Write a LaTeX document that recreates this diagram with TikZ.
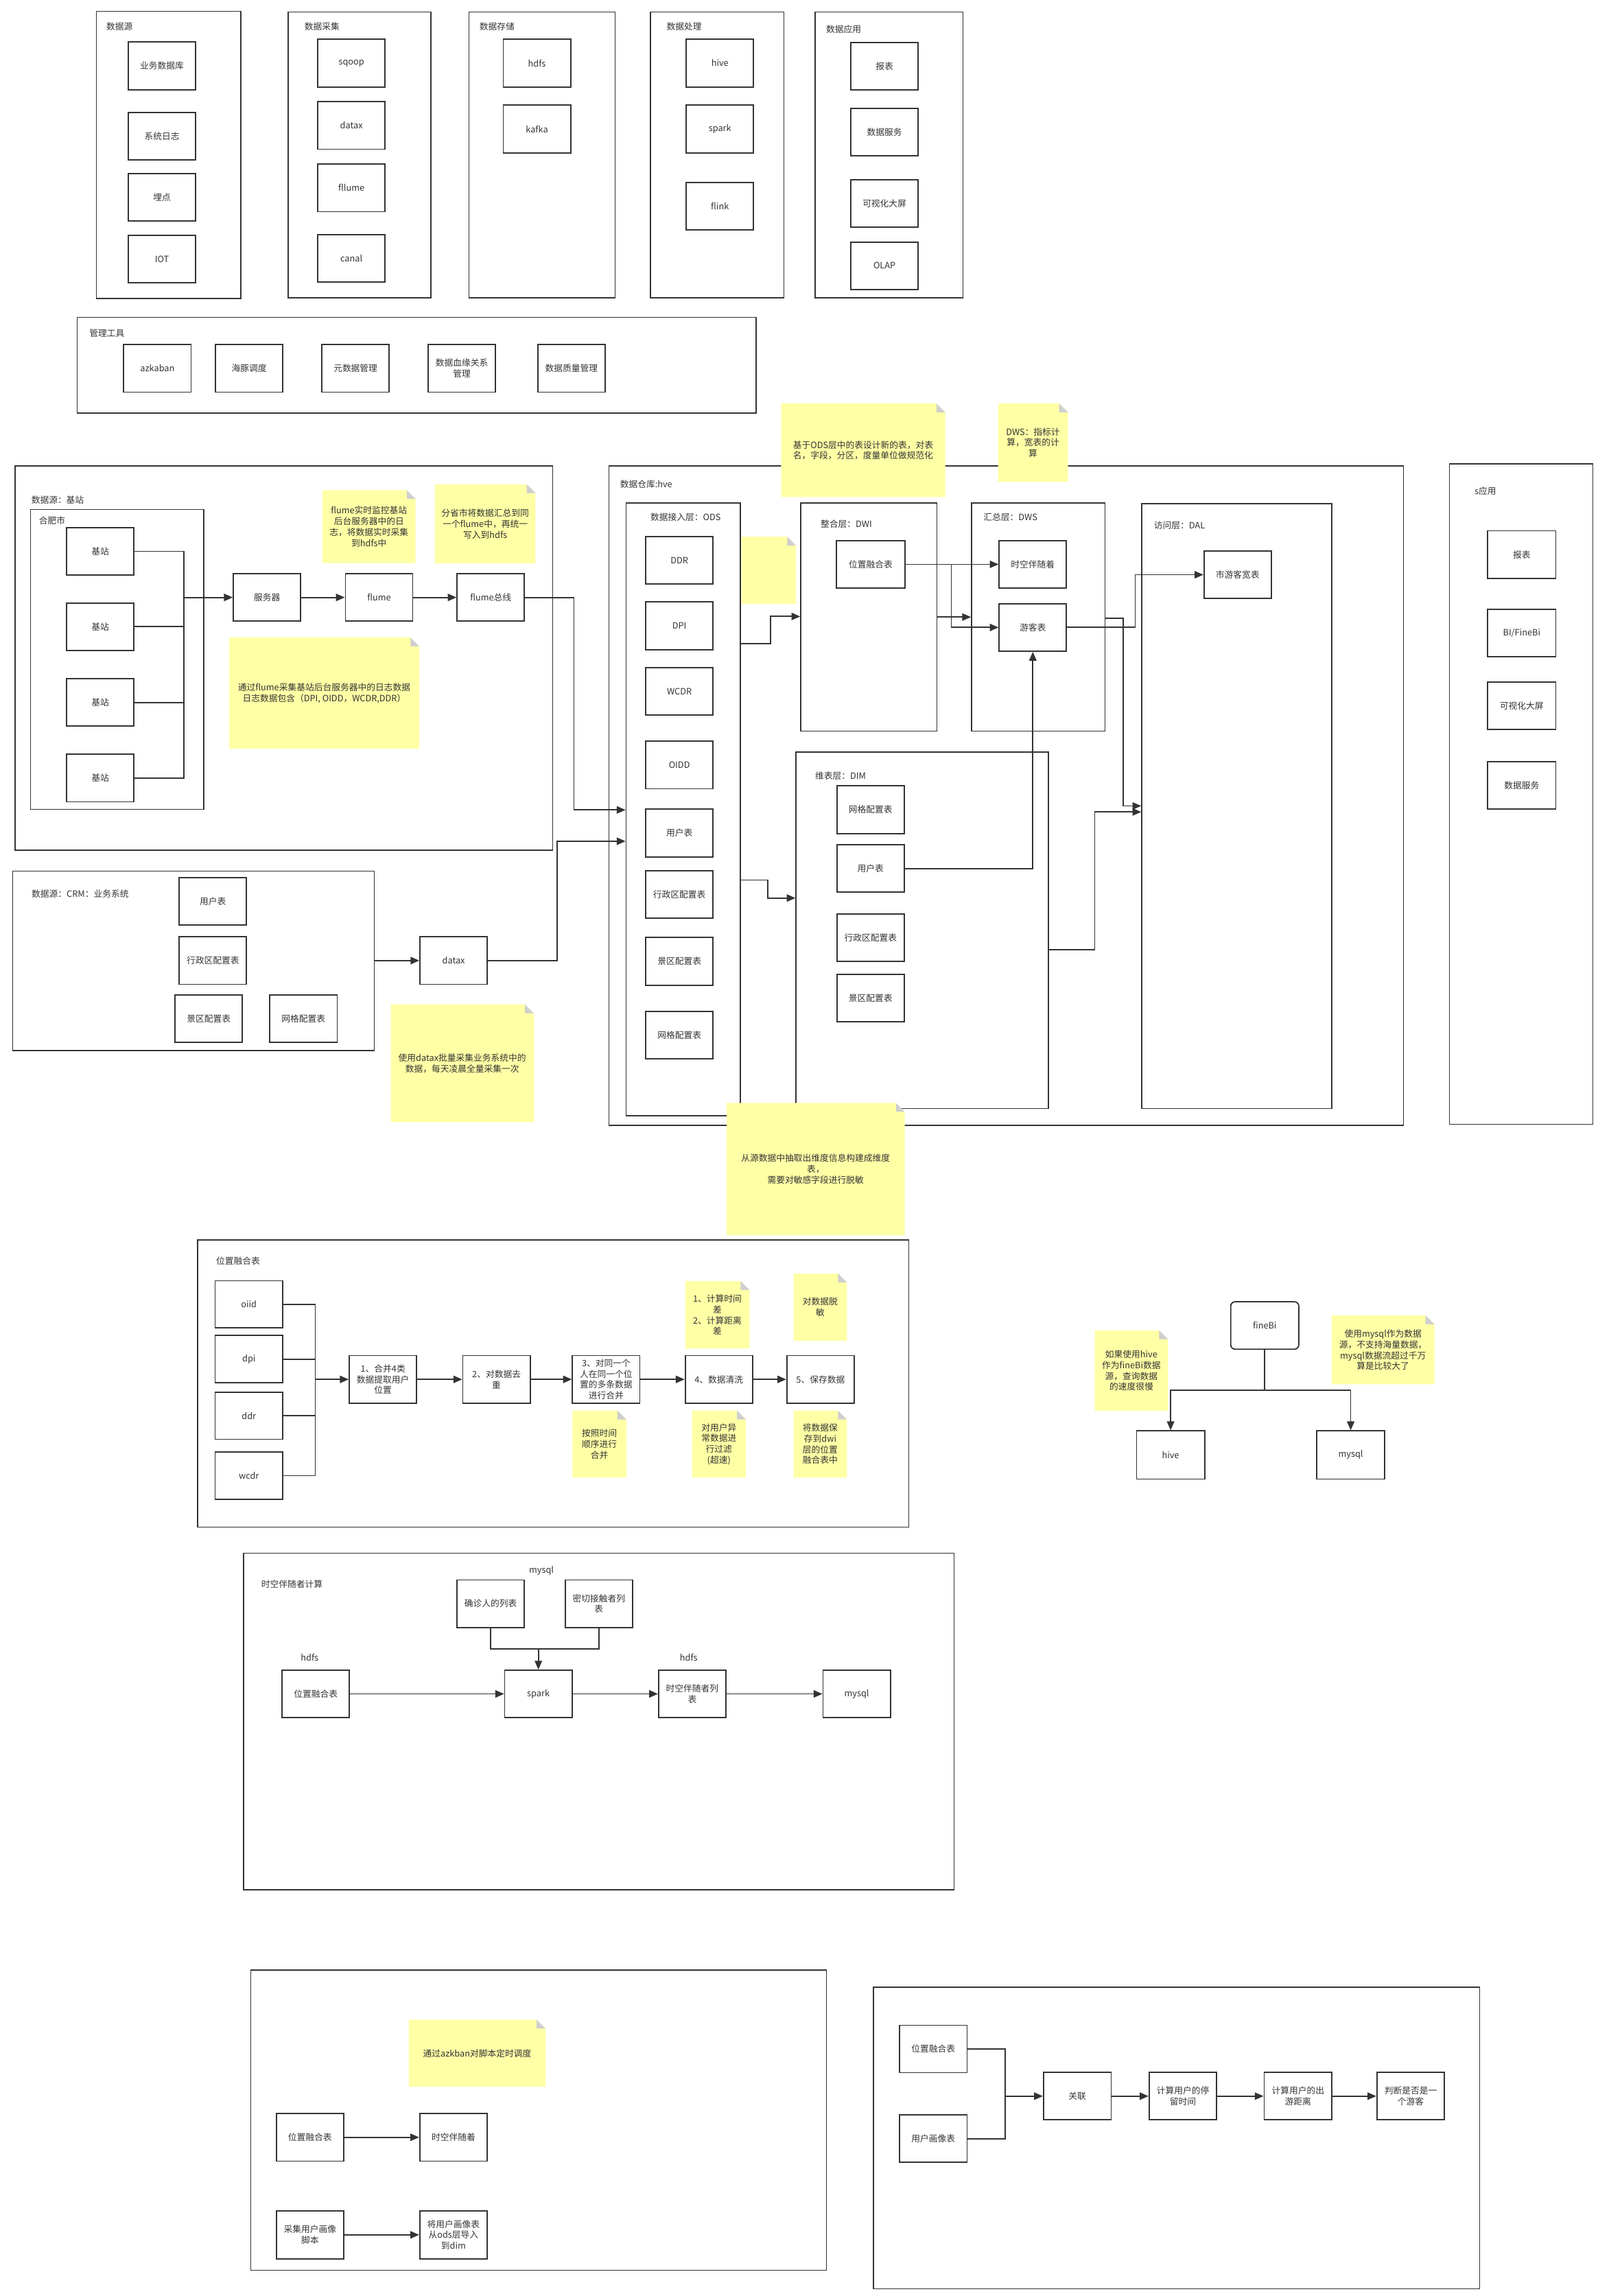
\documentclass[tikz,border=0pt]{standalone}
\usepackage{fontspec}
\setmainfont{Noto Sans CJK SC}
\usetikzlibrary{arrows.meta}

\definecolor{lncol}{HTML}{333333}
\definecolor{txtcol}{HTML}{333333}
\definecolor{notefill}{HTML}{FFFFA6}
\definecolor{foldgrey}{HTML}{CFCFCF}

\newcommand{\gridu}{0.05cm}
\newcommand{\foldsz}{0.3cm}

\tikzset{
  wh/.style 2 args={minimum width=#1*\gridu, minimum height=#2*\gridu},
  box/.style={draw=lncol, line width=1.2pt, fill=white, inner sep=0pt, align=center, text=txtcol, wh={46}{32.5}},
  panel/.style={draw=lncol, line width=1pt, inner sep=0pt},
  title/.style={anchor=west, inner sep=0pt, text=txtcol},
  tag/.style={inner sep=0pt, text=txtcol},
  wire/.style={draw=lncol, line width=1.2pt},
  arr/.style={wire, -{Triangle[length=0.3cm, width=0.25cm]}},
  note/.style={inner sep=0pt, align=center, text=txtcol, path picture={
    \fill[notefill] (path picture bounding box.south west) -- (path picture bounding box.south east)
      -- ([yshift=-\foldsz]path picture bounding box.north east) -- ([xshift=-\foldsz]path picture bounding box.north east)
      -- (path picture bounding box.north west) -- cycle;
    \fill[foldgrey] ([xshift=-\foldsz]path picture bounding box.north east) -- ([yshift=-\foldsz]path picture bounding box.north east)
      -- ([xshift=-\foldsz,yshift=-\foldsz]path picture bounding box.north east) -- cycle;}},
}

\begin{document}
\begin{tikzpicture}[x=0.05cm, y=-0.05cm, font=\fontsize{8.5pt}{10.5pt}\selectfont]

\path[use as bounding box, fill=white] (0,0) rectangle (1091,1568);

% Architecture: top row
\begin{scope}

\node[panel, wh={98.7}{196}] (srcpanel) at (115.2,105.8) {};
\node[title] (srctitle) at (72.5,18.2) {数据源};
\node[box] (bizdb) at (110.6,45) {业务数据库};
\node[box] (syslog) at (110.6,93.1) {系统日志};
\node[box] (track) at (110.6,134.8) {埋点};
\node[box] (iot) at (110.6,176.9) {IOT};

\node[panel, wh={97.5}{195}] (colpanel) at (245.6,105.8) {};
\node[title] (coltitle) at (207.9,18.3) {数据采集};
\node[box] (sqoop) at (240,43.1) {sqoop};
\node[box] (datax0) at (240,85.7) {datax};
\node[box] (flume0) at (240,128.3) {fllume};
\node[box] (canal) at (240,176.5) {canal};

\node[panel, wh={99.8}{195}] (storepanel) at (370.2,105.8) {};
\node[title] (storetitle) at (327.4,18.3) {数据存储};
\node[box] (hdfs0) at (366.7,43.1) {hdfs};
\node[box] (kafka) at (366.7,88.1) {kafka};

\node[panel, wh={91.1}{195}] (procpanel) at (489.8,105.8) {};
\node[title] (proctitle) at (455.2,18.3) {数据处理};
\node[box] (hive0) at (491.7,43.1) {hive};
\node[box] (spark0) at (491.7,88.1) {spark};
\node[box] (flink) at (491.7,140.8) {flink};

\node[panel, wh={101}{195}] (apppanel) at (607.1,105.8) {};
\node[title] (apptitle) at (564.1,20) {数据应用};
\node[box] (report0) at (604.1,45.3) {报表};
\node[box] (service0) at (604.1,90.3) {数据服务};
\node[box] (screen0) at (604.1,138.9) {可视化大屏};
\node[box] (olap) at (604.1,181.5) {OLAP};

% Management tools
\node[panel, wh={463.6}{65.2}] (mgmtpanel) at (284.6,249.4) {};
\node[title] (mgmttitle) at (61,227.4) {管理工具};
\node[box] (azkaban) at (107.5,251.6) {azkaban};
\node[box] (dolphin) at (170.2,251.6) {海豚调度};
\node[box] (metadata) at (242.8,251.6) {元数据管理};
\node[box] (lineage) at (315.4,251.6) {数据血缘关系\\管理};
\node[box] (quality) at (390.3,251.6) {数据质量管理};

\end{scope}

% Data source: base stations
\begin{scope}

\node[panel, wh={367.2}{262.6}] (basepanel) at (193.9,449.4) {};
\node[title] (basetitle) at (21.3,341.5) {数据源：基站};
\node[panel, wh={118.4}{204.8}] (hefei) at (80,450.4) {};
\node[title] (hefeititle) at (26.5,355.7) {合肥市};
\node[box] (bs1) at (68.5,376.5) {基站};
\node[box] (bs2) at (68.5,428) {基站};
\node[box] (bs3) at (68.5,479.7) {基站};
\node[box] (bs4) at (68.5,531.3) {基站};

\node[box] (server) at (182.4,408) {服务器};
\node[box] (flume) at (258.9,408) {flume};
\node[box] (flumebus) at (335.2,408) {flume总线};

\coordinate (bsbus) at (125.5,408);
\draw[wire] (bs1.east) -| (bsbus);
\draw[wire] (bs2.east) -| (bsbus);
\draw[wire] (bs3.east) -| (bsbus);
\draw[wire] (bs4.east) -| (bsbus);
\draw[arr] (bsbus) -- (server.west);
\draw[arr] (server.east) -- (flume.west);
\draw[arr] (flume.east) -- (flumebus.west);

\node[note, wh={63.7}{49.8}] (nflume1) at (252,359.7) {flume实时监控基站\\后台服务器中的日\\志，将数据实时采集\\到hdfs中};
\node[note, wh={68.7}{53.9}] (nflume2) at (331.4,357.7) {分省市将数据汇总到同\\一个flume中，再统一\\写入到hdfs};
\node[note, wh={129.9}{75.8}] (nflume3) at (221.4,473.3) {通过flume采集基站后台服务器中的日志数据\\日志数据包含（DPI, OIDD，WCDR,DDR）};

\end{scope}

% Data source: CRM
\begin{scope}

\node[panel, wh={247}{122.5}] (crm) at (132.1,656.2) {};
\node[title] (crmtitle) at (21.5,610.6) {数据源：CRM：业务系统};
\node[box] (cuser) at (145.4,615.5) {用户表};
\node[box] (cdistrict) at (145.4,656) {行政区配置表};
\node[box] (cscenic) at (142.6,695.7) {景区配置表};
\node[box] (cgrid) at (207.3,695.7) {网格配置表};

\node[box] (datax) at (309.8,656) {datax};
\draw[arr] (crm.east |- datax.west) -- (datax.west);

\node[note, wh={97.6}{80.4}] (ndatax) at (315.7,726.2) {使用datax批量采集业务系统中的\\数据，每天凌晨全量采集一次};

\end{scope}

% Data warehouse
\begin{scope}

\node[panel, wh={542.7}{450.3}] (dw) at (687.3,543.3) {};
\node[title] (dwtitle) at (423.4,330.8) {数据仓库:hve};

% ODS
\node[panel, wh={78}{418.4}] (ods) at (466.6,552.8) {};
\node[tag] (odstitle) at (468.3,353.4) {数据接入层：ODS};
\node[box] (oddr) at (464,382.7) {DDR};
\node[box] (odpi) at (464,427.4) {DPI};
\node[box] (owcdr) at (464,472.2) {WCDR};
\node[box] (ooidd) at (464,522.4) {OIDD};
\node[box] (ouser) at (464,568.9) {用户表};
\node[box] (odistrict) at (464,610.8) {行政区配置表};
\node[box] (oscenic) at (464,656.5) {景区配置表};
\node[box] (ogrid) at (464,706.9) {网格配置表};

% DWI
\node[panel, wh={93}{155.8}] (dwi) at (593.4,421.5) {};
\node[title] (dwititle) at (560.4,358) {整合层：DWI};
\node[box, wh={46.6}{32.3}] (fuse) at (594.7,385.4) {位置融合表};

% DWS
\node[panel, wh={91.1}{155.8}] (dws) at (709.1,421.5) {};
\node[title] (dwstitle) at (671.6,353.4) {汇总层：DWS};
\node[box] (company) at (705.4,385.4) {时空伴随着};
\node[box] (tour) at (705.4,428.5) {游客表};

% DAL
\node[panel, wh={129.8}{413}] (dal) at (844.7,550.5) {};
\node[title] (daltitle) at (788,358.7) {访问层：DAL};
\node[box] (citywide) at (845.3,392.5) {市游客宽表};

% DIM
\node[panel, wh={172.5}{243.4}] (dim) at (629.9,635.3) {};
\node[title] (dimtitle) at (556.6,530) {维表层：DIM};
\node[box] (dgrid) at (594.6,553) {网格配置表};
\node[box] (duser) at (594.6,593.1) {用户表};
\node[box] (ddistrict) at (594.6,640.3) {行政区配置表};
\node[box] (dscenic) at (594.6,681.7) {景区配置表};

\draw[arr] (flumebus.east) -| (392,553.1) -- (ods.west |- 0,553.1);
\draw[arr] (datax.east) -| (380.4,574.5) -- (ods.west |- 0,574.5);
\draw[arr] (ods.east |- 0,439.6) -| (526.2,421) -- (dwi.west |- 0,421);
\draw[arr] (ods.east |- 0,601) -| (524.3,613.3) -- (dim.west |- 0,613.3);
\draw[arr] (fuse.east) -- (company.west);
\draw[arr] (fuse.east -| 649.7,0) |- (tour.west);
\draw[arr] (dwi.east |- 0,421.4) -- (dws.west |- 0,421.4);
\draw[arr] (tour.east) -| (775.3,392.5) -- (citywide.west);
\draw[arr] (dws.east |- 0,422.3) -| (767,550.4) -- (dal.west |- 0,550.4);
\draw[arr] (dim.east |- 0,648.7) -| (747.7,554.5) -- (dal.west |- 0,554.5);
\draw[arr] (duser.east) -| (tour.south);

\node[note, wh={37.3}{45.9}] (nods) at (525,389.5) {};
\node[note, wh={112.1}{63.8}] (ndwi) at (589.5,307.5) {基于ODS层中的表设计新的表，对表\\名，字段，分区，度量单位做规范化};
\node[note, wh={47.8}{53.4}] (ndws) at (705.5,302.3) {DWS：指标计\\算，宽表的计\\算};
\node[note, wh={121.6}{90.2}] (ndim) at (557.1,798.3) {从源数据中抽取出维度信息构建成维度\\表，\\需要对敏感字段进行脱敏};

\end{scope}

% Applications
\begin{scope}

\node[panel, wh={98}{451}] (sapp) at (1039,542.3) {};
\node[title] (sapptitle) at (1007,335.5) {s应用};
\node[box, wh={46.6}{32.6}] (report) at (1039.3,378.8) {报表};
\node[box, wh={46.6}{32.6}] (bi) at (1039.3,432.3) {BI/FineBi};
\node[box, wh={46.6}{32.6}] (screen) at (1039.3,482) {可视化大屏};
\node[box, wh={46.6}{32.6}] (service) at (1039.3,536.3) {数据服务};

\end{scope}

% Position fusion table
\begin{scope}

\node[panel, wh={485.7}{196.2}] (fusepanel) at (377.9,944.9) {};
\node[title] (fusetitle) at (147.5,861.2) {位置融合表};
\node[box, wh={46.1}{32.3}] (foiid) at (170,890.8) {oiid};
\node[box, wh={46.1}{32.3}] (fdpi) at (170,928.2) {dpi};
\node[box, wh={46.1}{32.3}] (fddr) at (170,966.8) {ddr};
\node[box, wh={46.1}{32.3}] (fwcdr) at (170,1007.8) {wcdr};

\node[box] (step1) at (261.6,942) {1、合并4类\\数据提取用户\\位置};
\node[box] (step2) at (339.1,942) {2、对数据去\\重};
\node[box] (step3) at (414,942) {3、对同一个\\人在同一个位\\置的多条数据\\进行合并};
\node[box] (step4) at (491,942) {4、数据清洗};
\node[box] (step5) at (560.4,942) {5、保存数据};

\coordinate (srcbus) at (215.3,942);
\draw[wire] (foiid.east) -| (srcbus);
\draw[wire] (fdpi.east) -| (srcbus);
\draw[wire] (fddr.east) -| (srcbus);
\draw[wire] (fwcdr.east) -| (srcbus);
\draw[arr] (srcbus) -- (step1.west);
\draw[arr] (step1.east) -- (step2.west);
\draw[arr] (step2.east) -- (step3.west);
\draw[arr] (step3.east) -- (step4.west);
\draw[arr] (step4.east) -- (step5.west);

\node[note, wh={43.9}{46}] (nstep4a) at (489.9,897.9) {1、计算时间\\差\\2、计算距离\\差};
\node[note, wh={36.4}{45.9}] (nstep5a) at (560.2,892.7) {对数据脱\\敏};
\node[note, wh={36.7}{45.7}] (nstep3) at (409.4,986.2) {按照时间\\顺序进行\\合并};
\node[note, wh={36.7}{45.7}] (nstep4b) at (491,986.2) {对用户异\\常数据进\\行过滤\\(超速)};
\node[note, wh={36.4}{45.7}] (nstep5b) at (560.2,986.2) {将数据保\\存到dwi\\层的位置\\融合表中};

\end{scope}

% fineBi data source
\begin{scope}

\node[box, wh={46.5}{32.4}, rounded corners=0.15cm] (finebi) at (863.8,905.2) {fineBi};
\node[box, wh={46.5}{32.9}] (fhive) at (799.5,993.6) {hive};
\node[box, wh={46.5}{32.9}] (fmysql) at (922.5,993.6) {mysql};

\coordinate (fjoin) at (863.8,949.3);
\draw[wire] (finebi.south) -- (fjoin);
\draw[arr] (fjoin) -| (fhive.north);
\draw[arr] (fjoin) -| (fmysql.north);

\node[note, wh={50}{54.8}] (nhive) at (772.7,936) {如果使用hive\\作为fineBi数据\\源，查询数据\\的速度很慢};
\node[note, wh={70.1}{47}] (nmysql) at (944.6,921.9) {使用mysql作为数据\\源，不支持海量数据，\\mysql数据流超过千万\\算是比较大了};

\end{scope}

% Spatio-temporal companion computation
\begin{scope}

\node[panel, wh={485.2}{230}] (comppanel) at (408.9,1175.6) {};
\node[title] (comptitle) at (178.3,1082) {时空伴随者计算};
\node[tag] (gmysqltag) at (369.8,1072.7) {mysql};
\node[box, wh={45.8}{32.4}] (gdiag) at (335.1,1095.2) {确诊人的列表};
\node[box, wh={45.8}{32.4}] (gclose) at (409,1095.2) {密切接触者列\\表};

\node[tag] (ghdfstag1) at (211.5,1131.8) {hdfs};
\node[tag] (ghdfstag2) at (470.4,1131.8) {hdfs};
\node[box, wh={46}{32.4}] (gfuse) at (215.7,1156.8) {位置融合表};
\node[box, wh={46}{32.4}] (gspark) at (367.7,1156.8) {spark};
\node[box, wh={46}{32.4}] (glist) at (472.8,1156.8) {时空伴随者列\\表};
\node[box, wh={46}{32.4}] (gmysql) at (585.1,1156.8) {mysql};

\draw[wire] (gdiag.south) -- (gdiag.south |- 0,1125.9) -| (gclose.south);
\draw[arr] (gspark.north |- 0,1125.9) -- (gspark.north);
\draw[arr] (gfuse.east) -- (gspark.west);
\draw[arr] (gspark.east) -- (glist.west);
\draw[arr] (glist.east) -- (gmysql.west);

\end{scope}

% Scheduling
\begin{scope}

\node[panel, wh={393.2}{205.1}] (schedpanel) at (367.9,1447.9) {};
\node[note, wh={93.3}{45.9}] (naz) at (325.9,1402.2) {通过azkban对脚本定时调度};
\node[box, wh={46}{32.6}] (hfuse) at (211.7,1459.6) {位置融合表};
\node[box, wh={46}{32.6}] (hcomp) at (309.7,1459.6) {时空伴随着};
\node[box, wh={46}{32.6}] (hscript) at (211.7,1526.2) {采集用户画像\\脚本};
\node[box, wh={46}{32.6}] (hload) at (309.7,1526.2) {将用户画像表\\从ods层导入\\到dim};
\draw[arr] (hfuse.east) -- (hcomp.west);
\draw[arr] (hscript.east) -- (hload.west);

\end{scope}

% Tourist identification
\begin{scope}

\node[panel, wh={414.1}{205.9}] (tourpanel) at (803.5,1460) {};
\node[box, wh={46.2}{32.3}] (ifuse) at (637.4,1399.3) {位置融合表};
\node[box, wh={46.2}{32.3}] (iprofile) at (637.4,1460.5) {用户画像表};
\node[box, wh={46.2}{32.4}] (ijoin) at (735.8,1431.5) {关联};
\node[box, wh={46.2}{32.4}] (istay) at (807.9,1431.5) {计算用户的停\\留时间};
\node[box, wh={46.2}{32.4}] (idist) at (886.5,1431.5) {计算用户的出\\游距离};
\node[box, wh={46.2}{32.4}] (ijudge) at (963.5,1431.5) {判断是否是一\\个游客};

\coordinate (ibus) at (686.6,1431.5);
\draw[wire] (ifuse.east) -| (ibus);
\draw[wire] (iprofile.east) -| (ibus);
\draw[arr] (ibus) -- (ijoin.west);
\draw[arr] (ijoin.east) -- (istay.west);
\draw[arr] (istay.east) -- (idist.west);
\draw[arr] (idist.east) -- (ijudge.west);

\end{scope}

\end{tikzpicture}
\end{document}
